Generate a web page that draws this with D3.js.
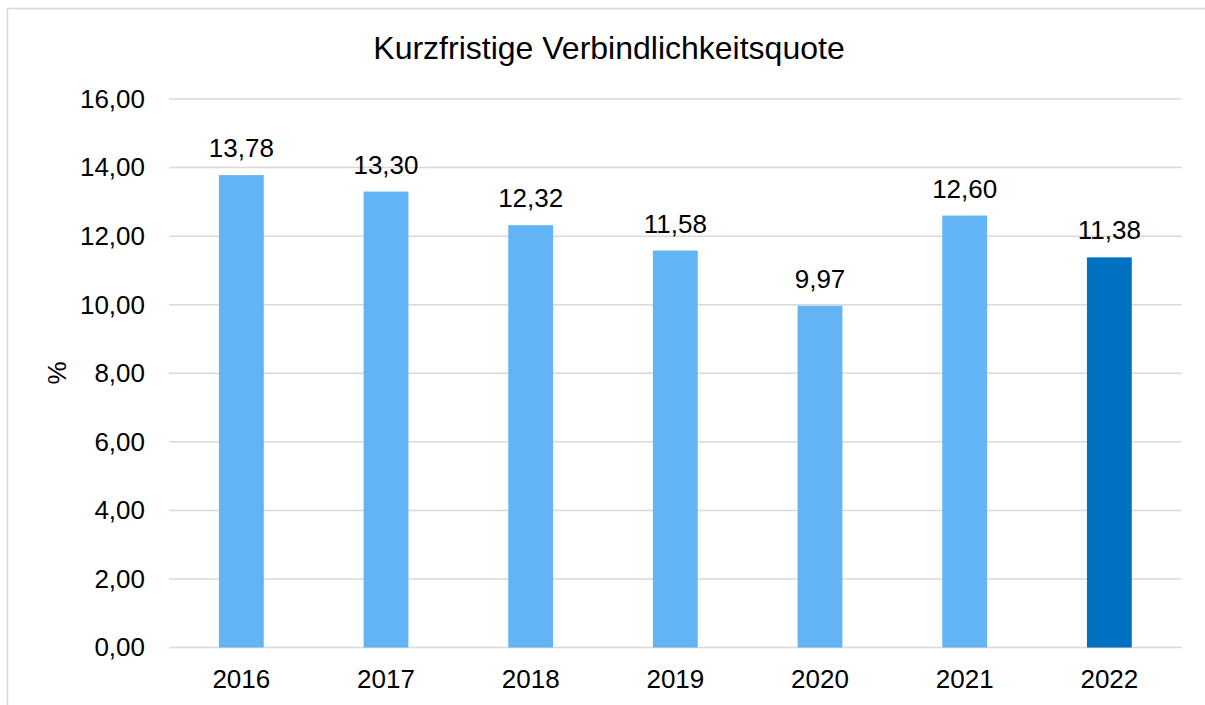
<!DOCTYPE html>
<html><head><meta charset="utf-8">
<script src="https://cdn.jsdelivr.net/npm/d3@7"></script>
<style>body{margin:0;background:#fff}svg{display:block;font-family:"Liberation Sans",Arial,sans-serif}</style>
</head><body>
<svg id="c" width="1205" height="705"></svg>
<script>
const categories = ["2016","2017","2018","2019","2020","2021","2022"];
const values = [13.78,13.30,12.32,11.58,9.97,12.60,11.38];
const yTicks = [0,2,4,6,8,10,12,14,16];
const title = "Kurzfristige Verbindlichkeitsquote";
const yLabel = "%";

const svg = d3.select("#c");
svg.append("rect").attr("x",7.5).attr("y",8.5).attr("width",1210).attr("height",710)
  .attr("fill","#fff").attr("stroke","#d9d9d9").attr("stroke-width",1.5);

const x = d3.scaleBand().domain(categories).range([169,1181.7]).paddingInner(0.69).paddingOuter(0.345);
const y = d3.scaleLinear().domain([0,16]).range([647.5,99]);
const fmt = v => d3.format(".2f")(v).replace(".",",");

const g = svg.append("g");
g.selectAll("line.grid").data(yTicks).join("line")
  .attr("x1",169).attr("x2",1181.7).attr("y1",d=>y(d)).attr("y2",d=>y(d))
  .attr("stroke","#d9d9d9").attr("stroke-width",1.5);

const yAxis = d3.axisLeft(y).tickValues(yTicks).tickFormat(fmt).tickSize(0).tickPadding(24);
const ya = svg.append("g").attr("transform","translate(169,0)").call(yAxis);
ya.select(".domain").remove();
ya.selectAll("text").attr("font-size",26).attr("fill","#000").attr("font-family","Liberation Sans, Arial, sans-serif");

const xAxis = d3.axisBottom(x).tickSize(0).tickPadding(0);
const xa = svg.append("g").attr("transform","translate(0,647.5)").call(xAxis);
xa.select(".domain").remove();
xa.selectAll("text").attr("font-size",26).attr("fill","#000").attr("dy",null).attr("y",40.5)
  .attr("font-family","Liberation Sans, Arial, sans-serif");

g.selectAll("rect.bar").data(values).join("rect")
  .attr("x",(d,i)=>x(categories[i])).attr("width",x.bandwidth())
  .attr("y",d=>y(d)).attr("height",d=>y(0)-y(d))
  .attr("fill",(d,i)=> i===categories.length-1 ? "#0070C0" : "#63B4F5");

g.selectAll("text.lab").data(values).join("text")
  .attr("x",(d,i)=>x(categories[i])+x.bandwidth()/2).attr("y",d=>y(d)-18)
  .attr("text-anchor","middle").attr("font-size",26).attr("fill","#000").text(fmt);

svg.append("text").attr("x",609).attr("y",58.5).attr("text-anchor","middle")
  .attr("font-size",32).attr("fill","#000").text(title);

svg.append("text").attr("transform","translate(66,373) rotate(-90)").attr("text-anchor","middle")
  .attr("font-size",26).attr("fill","#000").text(yLabel);
</script>
</body></html>
